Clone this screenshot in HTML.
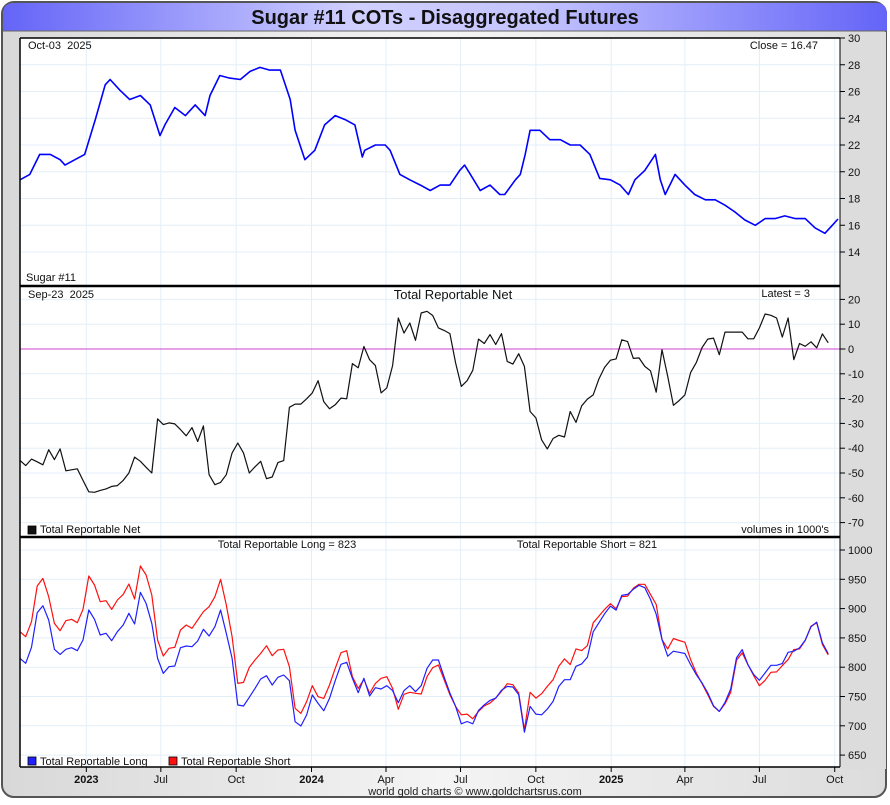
<!DOCTYPE html>
<html><head><meta charset="utf-8"><style>
body{margin:0;width:890px;height:800px;overflow:hidden;background:#fff;font-family:"Liberation Sans",sans-serif}
text{white-space:pre}
</style></head><body>
<svg id="c" width="890" height="800" xmlns="http://www.w3.org/2000/svg" font-family="Liberation Sans, sans-serif">
<defs>
<linearGradient id="tg" x1="0" x2="1" y1="0" y2="0"><stop offset="0" stop-color="#6464f8"/><stop offset="0.4" stop-color="#d0d0ff"/><stop offset="0.6" stop-color="#c4c4ff"/><stop offset="1" stop-color="#6464f8"/></linearGradient>
<linearGradient id="bg" x1="0" x2="1" y1="0" y2="0"><stop offset="0" stop-color="#d8d8d8"/><stop offset="0.5" stop-color="#f4f4f4"/><stop offset="1" stop-color="#dcdcdc"/></linearGradient>
</defs>
<rect x="2" y="2" width="884" height="795" rx="12" fill="url(#bg)" stroke="#555" stroke-width="2"/>
<rect x="840" y="32" width="46" height="737" fill="#dcdcdc"/>
<path d="M3,31 L3,14 Q3,3 14,3 L876,3 Q887,3 887,14 L887,31 Z" fill="url(#tg)"/>
<line x1="3" y1="31" x2="887" y2="31" stroke="#666" stroke-width="1"/>
<text x="445" y="24" text-anchor="middle" font-size="20" font-weight="bold" fill="#111">Sugar #11 COTs - Disaggregated Futures</text>
<rect x="20" y="38" width="820" height="729" fill="#fff"/>
<g id="grid"></g>
<g id="series"></g>
<g id="axes"></g>
<text x="475" y="795" text-anchor="middle" font-size="11" fill="#222">world gold charts © www.goldchartsrus.com</text>
</svg>
<script>
// ---- data ----
const priceDays=[0,12,24,37,49,55,67,79,92,104,110,122,134,147,159,171,177,189,202,214,226,232,244,256,269,281,293,305,318,330,336,348,360,372,385,397,409,418,421,434,446,452,464,476,489,501,513,525,537,543,550,562,574,586,592,605,611,617,623,635,647,660,672,684,696,708,721,733,743,751,763,776,782,788,800,812,824,837,849,861,873,885,898,910,922,934,947,959,971,983,992,999];
const priceValues=[19.4,19.8,21.3,21.3,20.9,20.5,20.9,21.3,23.9,26.5,26.9,26.1,25.4,25.7,25.0,22.7,23.5,24.8,24.2,25.0,24.2,25.7,27.2,27.0,26.9,27.5,27.8,27.6,27.6,25.4,23.1,20.9,21.6,23.5,24.2,23.9,23.5,21.1,21.6,22.0,22.0,21.6,19.8,19.4,19.0,18.6,19.0,19.0,20.1,20.5,19.8,18.6,19.0,18.3,18.3,19.4,19.8,21.3,23.1,23.1,22.4,22.4,22.0,22.0,21.3,19.5,19.4,19.0,18.3,19.4,20.1,21.3,19.4,18.3,19.8,19.0,18.3,17.9,17.9,17.5,17.0,16.4,16.0,16.5,16.5,16.7,16.5,16.5,15.8,15.4,16.0,16.47];
const netValues=[-44.9,-47,-44.4,-45.5,-46.7,-40.6,-44.6,-40.3,-49.1,-48.7,-48.3,-53,-57.6,-57.8,-57,-56.4,-55.4,-55.1,-53,-50,-43.6,-45.3,-47.7,-50,-28.2,-30.5,-29.8,-30.2,-32.5,-35,-31.7,-37.3,-31,-50.7,-54.7,-53.8,-50.7,-41.9,-37.9,-41.9,-50,-47.5,-45.3,-52.3,-51.6,-45.8,-45,-23.5,-22.2,-22.2,-20.1,-17.7,-12.8,-21.3,-24.1,-22.5,-19.8,-20.1,-5.9,-7.6,1,-4.3,-6.7,-17.7,-15.7,-6.7,12.5,6.4,10.5,3.5,14.5,15.2,13.5,8.5,7.5,6.2,-5.6,-15.1,-12.8,-8.6,4,2.2,5.8,1.8,6.2,-5,-6.1,-1.9,-7,-25.2,-27.8,-36.6,-40.3,-36.1,-34.8,-35.5,-25.2,-29.6,-22.9,-20.2,-18.5,-12.1,-7.4,-4.5,-4,3.7,3,-3.8,-3.6,-7,-8.8,-17.4,-0.3,-11,-22.7,-20.8,-18.5,-9.5,-5.5,0.6,4,4.4,-2.3,6.8,6.8,6.8,6.8,4.1,4.1,8.5,14.1,13.6,12.5,4.8,12.5,-4.3,2.2,1.1,2.9,0.5,6.1,2.5];
const longValues=[815.1,806.6,833.9,893,905,880.5,830.5,821.9,830.5,833.3,828.2,846.4,897.6,881.7,854.9,857.8,845.3,860.6,872,891.9,873.7,927.7,908.9,874.8,815.1,789.5,800.9,802,833.3,836.2,835,844.7,864.6,853.2,869.1,897.6,857.8,815.1,735.5,733.8,748.6,763.9,779.8,785.5,769.6,782.7,786.7,777,707,699.6,718.4,752.5,738.3,725.8,746.8,777,804.9,808.3,781,756.5,781,750.8,765,762.8,768.5,760,739.4,760,768.5,758.2,768.5,798,812.3,812.3,
783.3,755.9,733.1,703.4,707.4,703.4,726.2,735.9,743.3,747.3,760.5,767.3,766.2,753.1,689.1,733.1,720,718.8,728.5,741.6,767.3,778.7,778.7,801.6,805.6,817,860.4,875.8,891.2,904.3,897.5,922.6,924.3,932.9,939.7,935.7,915.7,890.4,847.2,818.7,827.3,825.5,823.3,804.4,787.3,773,755.9,734.2,724.5,739.9,762.8,815.8,830.1,804.4,787.3,777.6,790.2,803.3,803.3,806.1,825.5,827.3,833,846.1,869,876.9,841.5,823];
const shortValues=[860.6,852,877.7,938.5,951.6,920.3,874.8,862.3,879.4,881.7,876,898.7,955.6,940.2,911.8,913.5,898.7,914.6,924.3,941.9,916.4,972.7,957.3,923.2,846.4,819.1,832.2,833.9,863.5,872,866.3,880.5,894.7,903.3,920.3,949.9,906.1,852,772.4,774.1,799.7,812.3,823.6,836.7,819.7,829.3,830.5,800.9,729.8,721.2,741.2,768.5,749.7,746.8,769.6,798,824.8,828.2,783.8,763.9,779.3,755.4,772.4,781,783.8,763.9,728.1,753.7,757.1,755.4,754.2,783.8,799.2,803.7,
778.7,753.1,733.1,718.8,719.9,711.9,724.5,734.2,738.8,747.3,758.8,771.9,770.2,755.9,693.1,757.1,747.3,754.8,767.3,778.7,801.6,814.1,804.4,831.2,828.4,836.9,875.8,887.2,898.6,908.3,899.7,920.3,921.4,934.6,941.4,941.4,924.3,907.2,847.2,831.2,848.9,845.5,842.7,813,790.2,771.9,753.1,733.1,724.5,737.6,757.1,811.8,824.4,804.4,785.6,768.5,777.6,791.3,791.9,802.7,813,830.1,831.2,845.5,870.1,875.8,838.7,821];
const priceTicks=[30,28,26,24,22,20,18,16,14];
const netTicks=[20,10,0,-10,-20,-30,-40,-50,-60,-70];
const volTicks=[1000,950,900,850,800,750,700,650];
const xTickDates=["2023-04-01","2023-07-01","2023-10-01","2024-01-01","2024-04-01","2024-07-01","2024-10-01","2025-01-01","2025-04-01","2025-07-01","2025-10-01"];
const xTickLabels=["2023","Jul","Oct","2024","Apr","Jul","Oct","2025","Apr","Jul","Oct"];

// ---- scales ----
const DAY=86400000;
const T0=Date.UTC(2023,0,10), T1=Date.UTC(2025,9,5);
const X0=20, X1=838;
function xScale(t){return X0+(t-T0)/(T1-T0)*(X1-X0);}
function xDate(s){const p=s.split('-');return xScale(Date.UTC(+p[0],+p[1]-1,+p[2]));}
function yPrice(v){return 38+(30-v)*13.375;}
function yNet(v){return 349-v*2.48;}
function yVol(v){return 550+(1000-v)*0.586;}
const pStartT=Date.UTC(2023,0,10);
function reportX(i){return xScale(pStartT+i*7*DAY);}

const NS="http://www.w3.org/2000/svg";
function mk(tag,attrs,parent){const e=document.createElementNS(NS,tag);for(const k in attrs)e.setAttribute(k,attrs[k]);parent.appendChild(e);return e;}
const grid=document.getElementById('grid'), ser=document.getElementById('series'), ax=document.getElementById('axes');

xTickDates.forEach((d,i)=>{
  const x=xDate(d);
  const g=mk('line',{x1:x,x2:x,y1:38,y2:767,stroke:'#e3eff8','stroke-width':1},grid);
  
  
  const tk=mk('line',{x1:x,x2:x,y1:767,y2:772,stroke:'#000'},ax);
  
  
  const t=mk('text',{x:x,y:783,'text-anchor':'middle','font-size':11,fill:'#111','font-weight':(xTickLabels[i].length===4?'bold':'normal')},ax);
  t.textContent=xTickLabels[i];
  
  
});
function yAxis(ticks,fn,name){
  ticks.forEach(v=>{
    const y=fn(v);
    const g=mk('line',{x1:20,x2:840,y1:y,y2:y,stroke:'#e3eff8','stroke-width':1},grid);
    
    
    const tk=mk('line',{x1:840,x2:845,y1:y,y2:y,stroke:'#000'},ax);
    
    
    const t=mk('text',{x:848,y:y+4,'font-size':11,fill:'#111'},ax);
    t.textContent=String(v);
    
    
  });
}
yAxis(priceTicks,yPrice,'price-axis');
yAxis(netTicks,yNet,'net-axis');
yAxis(volTicks,yVol,'volume-axis');

const z=mk('line',{x1:20,x2:846,y1:yNet(0),y2:yNet(0),stroke:'#d040d0','stroke-width':1},ser);



function poly(pts,color,w,name){
  const p=mk('polyline',{points:pts.map(a=>a[0].toFixed(1)+','+a[1].toFixed(1)).join(' '),fill:'none',stroke:color,'stroke-width':w,'stroke-linejoin':'round'},ser);
  
  
}
poly(priceValues.map((v,i)=>[xScale(pStartT+priceDays[i]*DAY),yPrice(v)]),'#0000ff',1.6,'price-line');
poly(netValues.map((v,i)=>[reportX(i),yNet(v)]),'#111',1.2,'net-line');
poly(shortValues.map((v,i)=>[reportX(i),yVol(v)]),'#ff1010',1.2,'short-line');
poly(longValues.map((v,i)=>[reportX(i),yVol(v)]),'#2020ff',1.2,'long-line');

[[20,38,840,38,1.5],[20,38,20,767,1.5],[840,38,840,767,1],[20,767,840,767,1.5],[20,286,840,286,2.5],[20,537,840,537,2.5]].forEach(b=>{
  const l=mk('line',{x1:b[0],y1:b[1],x2:b[2],y2:b[3],stroke:'#000','stroke-width':b[4]},ax);
  
  
});
function txt(x,y,s,anchor,size,name){
  const t=mk('text',{x:x,y:y,'text-anchor':anchor,'font-size':size,fill:'#111'},ax);
  t.textContent=s;
  
  
  return t;
}
txt(28,49,'Oct-03  2025','start',11,'price-date-label');
txt(818,49,'Close = '+priceValues[priceValues.length-1].toFixed(2),'end',11,'close-label');
txt(26,281,'Sugar #11','start',11,'price-panel-label');
txt(28,298,'Sep-23  2025','start',11,'net-date-label');
txt(453,299,'Total Reportable Net','middle',13,'net-panel-title');
txt(810,297,'Latest = '+Math.round(netValues[netValues.length-1]),'end',11,'latest-label');
txt(40,533,'Total Reportable Net','start',11,'net-legend-label');
txt(829,533,"volumes in 1000's",'end',11,'volume-units-label');
txt(287,548,'Total Reportable Long = '+Math.round(longValues[longValues.length-1]),'middle',11,'long-latest-label');
txt(587,548,'Total Reportable Short = '+Math.round(shortValues[shortValues.length-1]),'middle',11,'short-latest-label');
txt(40,765,'Total Reportable Long','start',11,'long-legend-label');
txt(181,765,'Total Reportable Short','start',11,'short-legend-label');
[[28,526,'#111','net-legend-swatch'],[28,757,'#2020ff','long-legend-swatch'],[169,757,'#ff1010','short-legend-swatch']].forEach(s=>{
  const r=mk('rect',{x:s[0],y:s[1],width:8,height:8,fill:s[2],stroke:'#000','stroke-width':0.8},ax);
  
  
});
</script>
</body></html>
